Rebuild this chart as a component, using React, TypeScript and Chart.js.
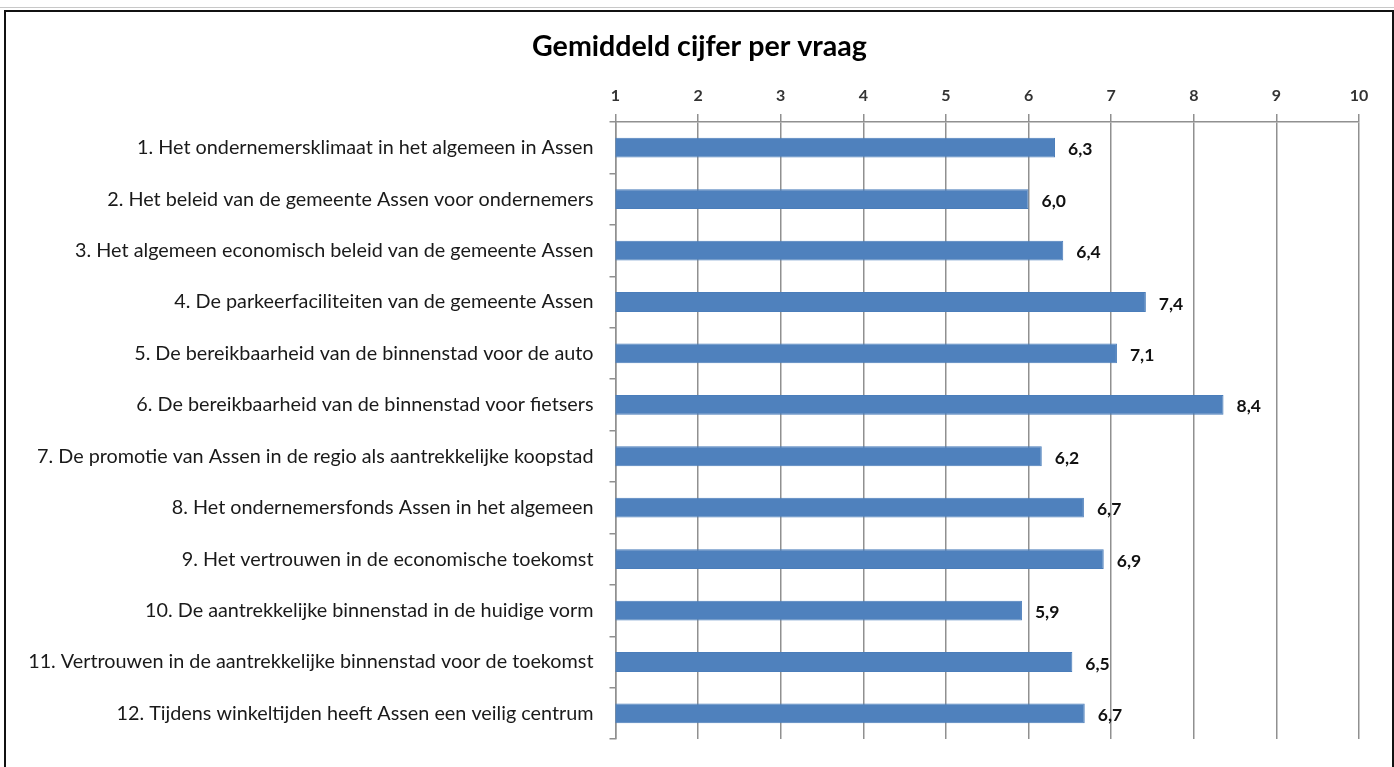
import React, { useEffect, useRef } from "react";
import { Chart, registerables } from "chart.js";

Chart.register(...registerables);

const categories: string[] = [
  "1. Het ondernemersklimaat in het algemeen in Assen",
  "2. Het beleid van de gemeente Assen voor ondernemers",
  "3. Het algemeen economisch beleid van de gemeente Assen",
  "4. De parkeerfaciliteiten van de gemeente Assen",
  "5. De bereikbaarheid van de binnenstad voor de auto",
  "6. De bereikbaarheid van de binnenstad voor fietsers",
  "7. De promotie van Assen in de regio als aantrekkelijke koopstad",
  "8. Het ondernemersfonds Assen in het algemeen",
  "9. Het vertrouwen in de economische toekomst",
  "10. De aantrekkelijke binnenstad in de huidige vorm",
  "11. Vertrouwen in de aantrekkelijke binnenstad voor de toekomst",
  "12. Tijdens winkeltijden heeft Assen een veilig centrum",
];

const scores: number[] = [6.32, 6.0, 6.42, 7.42, 7.07, 8.36, 6.16, 6.67, 6.91, 5.92, 6.53, 6.68];
const scoreLabels: string[] = ["6,3", "6,0", "6,4", "7,4", "7,1", "8,4", "6,2", "6,7", "6,9", "5,9", "6,5", "6,7"];

const titleText = "Gemiddeld cijfer per vraag";
const axisMin = 1;
const axisMax = 10;

const FONT = "Lato, 'Open Sans', sans-serif";

const valueLabelPlugin = {
  id: "valueLabels",
  afterDatasetsDraw(chart: any) {
    const ctx = chart.ctx;
    const meta = chart.getDatasetMeta(0);
    ctx.save();
    ctx.font = `bold 17.5px ${FONT}`;
    ctx.fillStyle = "#111";
    ctx.textAlign = "left";
    ctx.textBaseline = "middle";
    meta.data.forEach((bar: any, i: number) => {
      ctx.fillText(scoreLabels[i], bar.x + 13, bar.y + 2);
    });
    ctx.restore();
  },
};

export default function App() {
  const canvasRef = useRef<HTMLCanvasElement | null>(null);

  useEffect(() => {
    document.body.style.margin = "0";
    const canvas = canvasRef.current;
    if (!canvas) return;
    const chart = new Chart(canvas, {
      type: "bar",
      data: {
        labels: categories,
        datasets: [
          {
            data: scores,
            backgroundColor: "#4F81BD",
            borderColor: "#4A7DBA",
            borderWidth: 1,
            categoryPercentage: 1,
            barPercentage: 0.385,
          },
        ],
      },
      options: {
        indexAxis: "y",
        responsive: false,
        animation: false,
        layout: { padding: { left: 0, right: 0, top: 0, bottom: 19 } },
        plugins: {
          legend: { display: false },
          tooltip: { enabled: false },
          title: {
            display: true,
            text: titleText,
            color: "#000",
            font: { family: FONT, size: 28.6, weight: "bold" },
            padding: { top: 17, bottom: 8 },
          },
        },
        scales: {
          x: {
            position: "top",
            min: axisMin,
            max: axisMax,
            ticks: {
              stepSize: 1,
              color: "#333",
              font: { family: FONT, size: 16, weight: "bold" },
              padding: 9,
            },
            grid: { color: "#909090", lineWidth: 1.5, tickLength: 8 },
            border: { color: "#909090", width: 1.5 },
            afterFit: (scale: any) => {
              scale.height = 50.4 - 0.72;
            },
          },
          y: {
            ticks: {
              color: "#1a1a1a",
              font: { family: FONT, size: 19.8 },
              padding: 16,
              autoSkip: false,
            },
            grid: { drawOnChartArea: false, color: "#909090", lineWidth: 1.5, tickLength: 6, offset: true },
            border: { color: "#909090", width: 1.5 },
            afterFit: (scale: any) => {
              scale.width = 608.5;
            },
          },
          yRight: {
            type: "category",
            position: "right",
            labels: categories,
            ticks: { display: false },
            grid: { display: false },
            border: { display: false },
            afterFit: (scale: any) => {
              scale.width = 33;
            },
          },
        },
      } as any,
      plugins: [valueLabelPlugin],
    });
    return () => chart.destroy();
  }, []);

  return (
    <div style={{ position: "relative", width: 1394, height: 767, overflow: "hidden", background: "#fff" }}>
      <div style={{ position: "absolute", left: 0, top: 7, width: 1394, height: 1, background: "#c8c8c8" }} />
      <div
        style={{
          position: "absolute",
          left: 4,
          top: 10,
          width: 1386,
          height: 800,
          borderLeft: "2px solid #111",
          borderTop: "2px solid #111",
          borderRight: "2px solid #111",
        }}
      />
      <canvas
        ref={canvasRef}
        width={1385}
        height={754}
        style={{ position: "absolute", left: 7, top: 13, width: 1385, height: 754 }}
      />
    </div>
  );
}
